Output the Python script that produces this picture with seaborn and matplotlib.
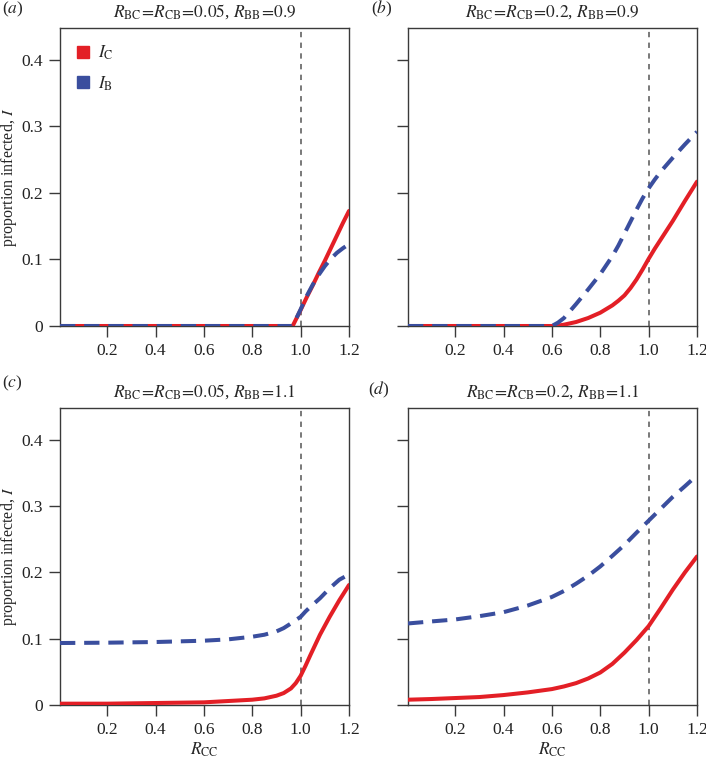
import numpy as np
import pandas as pd
import matplotlib
matplotlib.use("Agg")
import matplotlib.pyplot as plt
import seaborn as sns
from matplotlib.lines import Line2D

sns.set_theme(style="white")
plt.rcParams['font.family'] = ['Liberation Serif', 'DejaVu Serif']
plt.rcParams['mathtext.fontset'] = 'stix'

# ---------------- data ----------------
x_a = [0.005, 0.2, 0.4, 0.6, 0.8, 0.967, 1.0, 1.025, 1.05, 1.075, 1.1, 1.125, 1.15, 1.175, 1.2]
ic_a = [0, 0, 0, 0, 0, 0, 0.024, 0.043, 0.061, 0.080, 0.098, 0.117, 0.136, 0.155, 0.173]
ib_a = [0, 0, 0, 0, 0, 0, 0.025, 0.045, 0.062, 0.077, 0.090, 0.101, 0.110, 0.117, 0.123]

x_b = [0.005, 0.2, 0.4, 0.6, 0.625, 0.65, 0.7, 0.75, 0.8, 0.85, 0.875, 0.9, 0.925, 0.95, 0.975,
       1.0, 1.025, 1.05, 1.1, 1.15, 1.2]
ic_b = [0, 0, 0, 0, 0.0005, 0.002, 0.006, 0.012, 0.020, 0.031, 0.038, 0.046, 0.057, 0.070, 0.085,
        0.101, 0.116, 0.130, 0.158, 0.188, 0.217]
ib_b = [0, 0, 0, 0, 0.005, 0.012, 0.033, 0.055, 0.078, 0.105, 0.121, 0.139, 0.157, 0.175, 0.192,
        0.207, 0.220, 0.232, 0.253, 0.273, 0.292]

x_c = [0.005, 0.2, 0.4, 0.6, 0.7, 0.8, 0.85, 0.9, 0.93, 0.96, 0.98, 1.0, 1.02, 1.04, 1.08, 1.12,
       1.16, 1.2]
ic_c = [0.002, 0.002, 0.003, 0.004, 0.006, 0.008, 0.010, 0.014, 0.018, 0.025, 0.033, 0.044, 0.059,
        0.075, 0.106, 0.133, 0.158, 0.181]
ib_c = [0.0935, 0.094, 0.095, 0.097, 0.099, 0.103, 0.106, 0.111, 0.116, 0.123, 0.128, 0.133, 0.141,
        0.148, 0.161, 0.176, 0.189, 0.197]

x_d = [0.005, 0.1, 0.2, 0.3, 0.4, 0.5, 0.6, 0.65, 0.7, 0.75, 0.8, 0.85, 0.9, 0.95, 1.0, 1.05, 1.1,
       1.15, 1.2]
ic_d = [0.008, 0.009, 0.0105, 0.012, 0.015, 0.019, 0.024, 0.028, 0.033, 0.040, 0.049, 0.062, 0.079,
        0.098, 0.119, 0.146, 0.174, 0.200, 0.224]
ib_d = [0.123, 0.126, 0.129, 0.134, 0.140, 0.150, 0.163, 0.172, 0.183, 0.195, 0.209, 0.225, 0.2415,
        0.260, 0.278, 0.296, 0.314, 0.330, 0.3465]

panel_letters = ['a', 'b', 'c', 'd']
titles = [
    r'$R_{\mathrm{BC}}\!=\!R_{\mathrm{CB}}\!=\!0.05$, $R_{\mathrm{BB}}\!=\!0.9$',
    r'$R_{\mathrm{BC}}\!=\!R_{\mathrm{CB}}\!=\!0.2$, $R_{\mathrm{BB}}\!=\!0.9$',
    r'$R_{\mathrm{BC}}\!=\!R_{\mathrm{CB}}\!=\!0.05$, $R_{\mathrm{BB}}\!=\!1.1$',
    r'$R_{\mathrm{BC}}\!=\!R_{\mathrm{CB}}\!=\!0.2$, $R_{\mathrm{BB}}\!=\!1.1$',
]
x_ticks = [0.2, 0.4, 0.6, 0.8, 1.0, 1.2]
x_ticklabels = ['0.2', '0.4', '0.6', '0.8', '1.0', '1.2']
y_ticks = [0, 0.1, 0.2, 0.3, 0.4]
y_ticklabels = ['0', '0.1', '0.2', '0.3', '0.4']
series_names = [r'$I_{\mathrm{C}}$', r'$I_{\mathrm{B}}$']

RED = '#e31f26'
BLUE = '#3a4e9e'
SPINE = '#3a3a3a'

data = [(x_a, ic_a, ib_a), (x_b, ic_b, ib_b), (x_c, ic_c, ib_c), (x_d, ic_d, ib_d)]

W, H = 706, 762
fig = plt.figure(figsize=(W / 100, H / 100), dpi=100)

# axes boxes in pixels: left, right, top, bottom
boxes = [(60, 349, 28, 326), (408, 697, 28, 326), (60, 349, 408, 705), (408, 697, 408, 705)]
letter_pos = [(2, 9), (371, 9), (2, 383), (368, 390)]
FS = 12.5

for i, ((x, ic, ib), (l, r, t, b)) in enumerate(zip(data, boxes)):
    ax = fig.add_axes([l / W, 1 - b / H, (r - l) / W, (b - t) / H])
    df = pd.DataFrame({'R': x, 'IC': ic, 'IB': ib})
    ax.axvline(1.0, color='#555555', lw=1.1, linestyle=(0, (3.5, 3.5)), zorder=1)
    sns.lineplot(data=df, x='R', y='IC', ax=ax, color=RED, lw=2.9, zorder=3)
    sns.lineplot(data=df, x='R', y='IB', ax=ax, color=BLUE, lw=2.9,
                 linestyle=(0, (3.8, 2.2)), zorder=4)
    ax.set_xlim(0.005, 1.2)
    ax.set_ylim(0, 0.448)
    ax.set_xticks(x_ticks)
    ax.set_xticklabels(x_ticklabels, fontsize=FS)
    ax.set_yticks(y_ticks)
    if i % 2 == 0:
        ax.set_yticklabels(y_ticklabels, fontsize=FS)
        ax.set_ylabel('proportion infected, $I$', fontsize=11.5)
        ax.yaxis.set_label_coords(-0.143, 0.5)
    else:
        ax.set_yticklabels([])
        ax.set_ylabel('')
    if i >= 2:
        ax.set_xlabel(r'$R_{\mathrm{CC}}$', fontsize=FS, labelpad=2)
    else:
        ax.set_xlabel('')
    ax.tick_params(axis='both', direction='out', length=8, width=1, color=SPINE,
                   bottom=True, left=True, pad=4, labelcolor='#222222')
    for s in ax.spines.values():
        s.set_visible(True)
        s.set_color(SPINE)
        s.set_linewidth(1)
    ax.set_title(titles[i], fontsize=FS, pad=8)
    lx, ly = letter_pos[i]
    fig.text(lx / W, 1 - ly / H,
             '(' + r'$\mathit{' + panel_letters[i] + '}$' + ')', fontsize=FS,
             ha='left', va='center')
    if i == 0:
        handles = [Line2D([], [], marker='s', color='none', markerfacecolor=RED,
                          markeredgecolor=RED, markersize=9),
                   Line2D([], [], marker='s', color='none', markerfacecolor=BLUE,
                          markeredgecolor=BLUE, markersize=9)]
        ax.legend(handles, series_names, loc='upper left', frameon=False,
                  fontsize=FS, handlelength=0.8, handletextpad=0.5,
                  labelspacing=0.7, borderaxespad=0.5)

fig.savefig('out.png', dpi=100)
